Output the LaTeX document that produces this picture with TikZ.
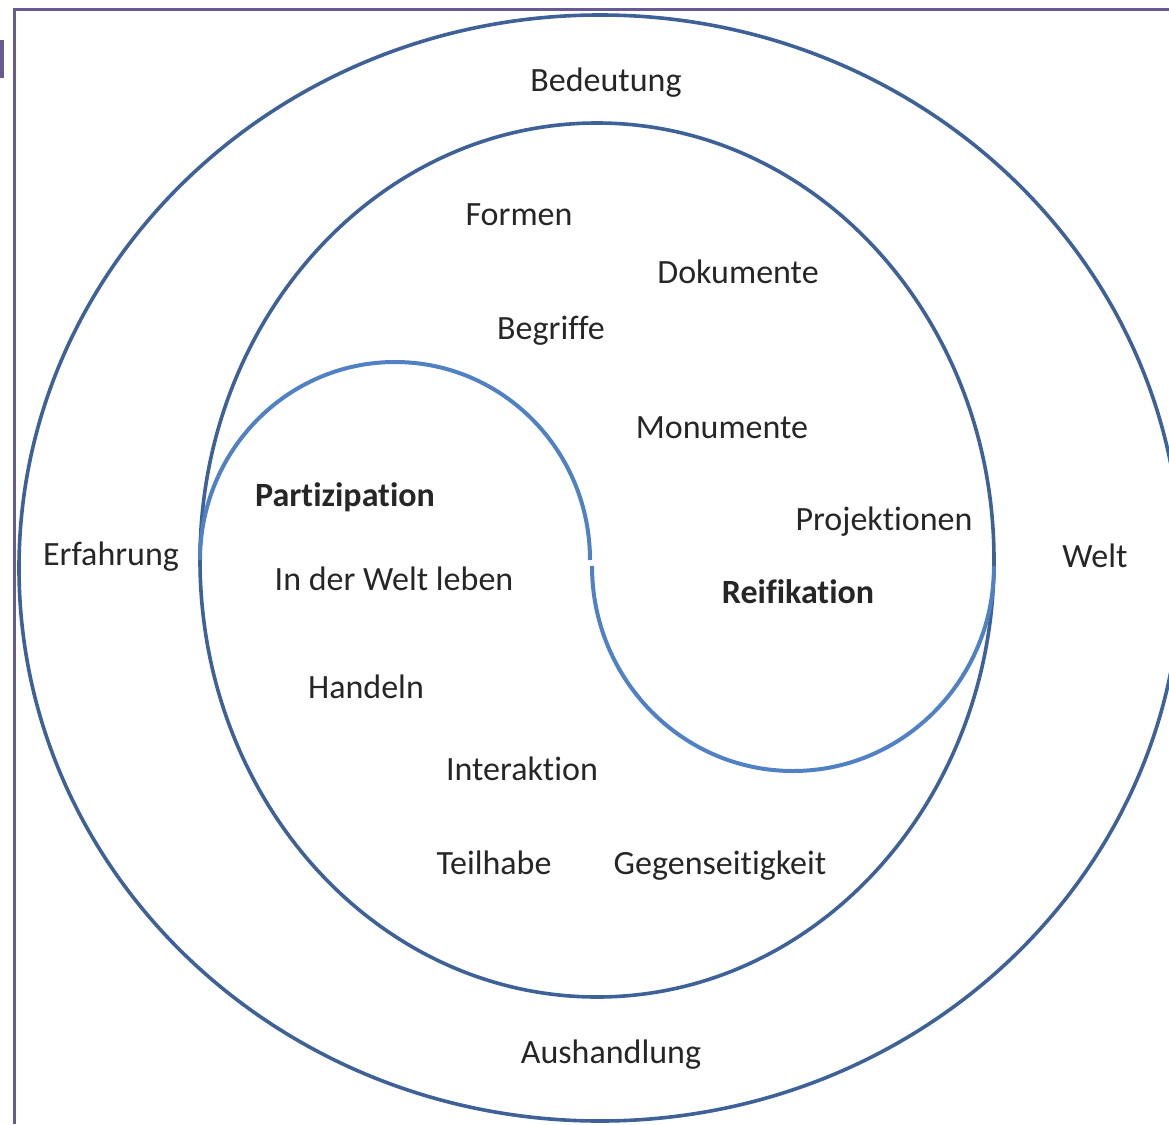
\documentclass[tikz,border=0pt]{standalone}
\usepackage{fontspec}
\setmainfont[Ligatures=NoCommon]{Carlito}
\begin{document}
\definecolor{ringblue}{HTML}{3E6197}
\definecolor{sblue}{HTML}{4F81C4}
\definecolor{framepurple}{HTML}{6A5A92}
\definecolor{textgray}{HTML}{262626}
\begin{tikzpicture}[x=1pt,y=-1pt,
  lbl/.style={anchor=base,inner sep=0pt,text=textgray,font=\fontsize{34}{38}\selectfont},
  lblbold/.style={lbl,font=\fontsize{34}{38}\selectfont\bfseries},
  ring/.style={draw=ringblue,line width=3.6pt},
  scurve/.style={draw=sblue,line width=4pt}]
  \useasboundingbox (0,0) rectangle (1169,1124);
  \clip (0,0) rectangle (1169,1124);
  % frame edges
  \draw[framepurple,line width=2.2pt] (14.5,1124) -- (14.5,9.5) -- (1169,9.5);
  \draw[framepurple,line width=4pt,line cap=round] (0,42) -- (1.5,42) -- (1.5,76) -- (0,76);
  % rings
  \draw[ring] (600,568) ellipse [x radius=581,y radius=553];
  \draw[ring] (597,560) ellipse [x radius=397,y radius=437];
  % S-shaped divider
  \draw[scurve] (200,560) arc[start angle=180,end angle=360,x radius=195,y radius=198];
  \draw[scurve] (592,566) arc[start angle=180,end angle=0,x radius=201,y radius=205];
  % labels
  \node[lbl] (bed) at (606,92) {Bedeutung};
  \node[lbl] (for) at (519,225) {Formen};
  \node[lbl] (dok) at (738,283) {Dokumente};
  \node[lbl] (beg) at (551,339) {Begriffe};
  \node[lbl] (mon) at (722,438) {Monumente};
  \node[lblbold] (par) at (345,506) {Partizipation};
  \node[lbl] (pro) at (884,530) {Projektionen};
  \node[lbl] (erf) at (111,565) {Erfahrung};
  \node[lbl] (wel) at (1095,567) {Welt};
  \node[lbl] (idw) at (394,590) {In der Welt leben};
  \node[lblbold] (rei) at (798,603) {Reifikation};
  \node[lbl] (han) at (366,698) {Handeln};
  \node[lbl] (int) at (522,780) {Interaktion};
  \node[lbl] (tei) at (494,874) {Teilhabe};
  \node[lbl] (geg) at (720,874) {Gegenseitigkeit};
  \node[lbl] (aus) at (611,1063) {Aushandlung};
\end{tikzpicture}
\end{document}
